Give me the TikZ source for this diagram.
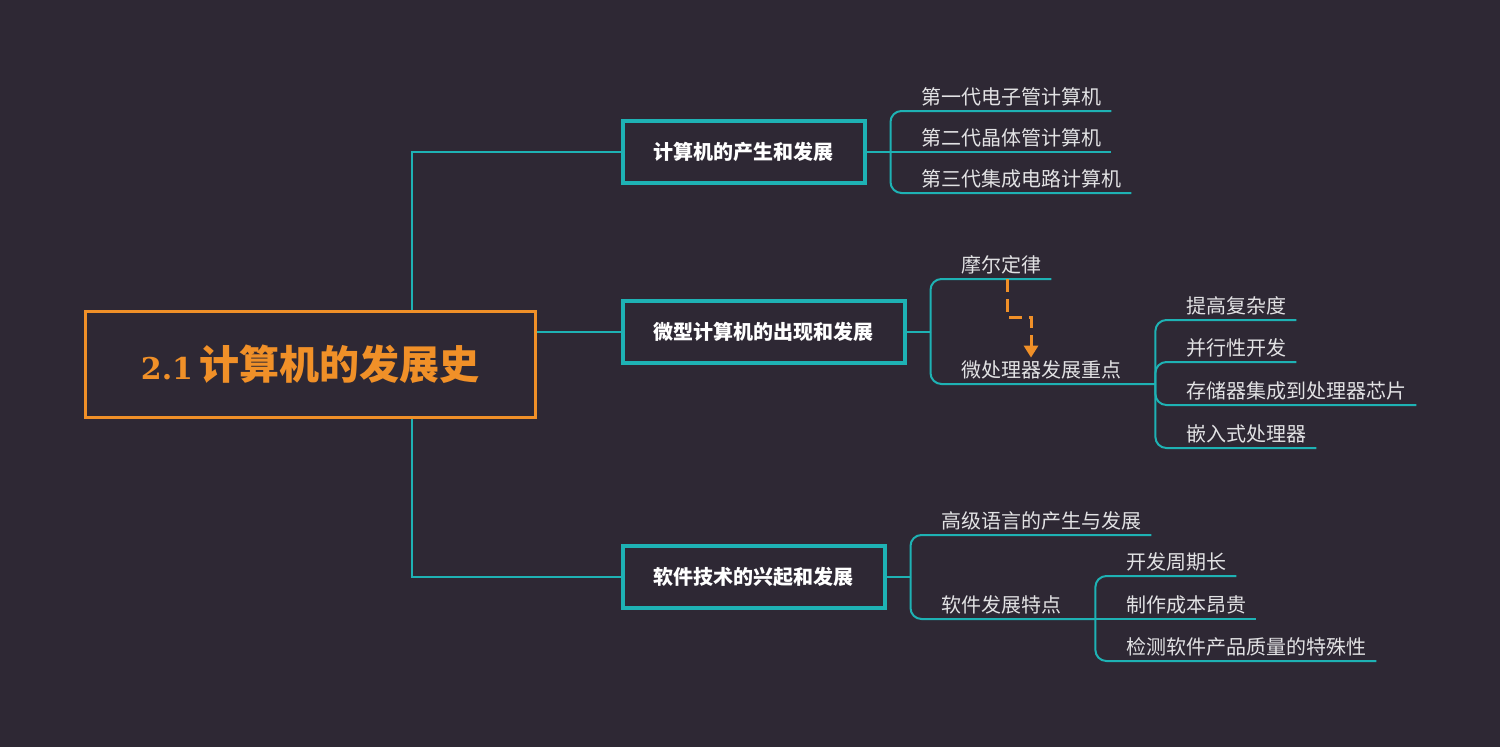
\documentclass[tikz,border=0pt]{standalone}
\usepackage{fontspec}
\setmainfont{Noto Sans CJK SC}
\newfontfamily\digitfont{DejaVu Serif}
\usetikzlibrary{calc,arrows.meta}
\definecolor{bgDark}{RGB}{46,40,52}
\definecolor{mapTeal}{RGB}{30,178,180}
\definecolor{mapOrange}{RGB}{240,144,40}
\definecolor{leafGray}{RGB}{226,226,228}
\tikzset{
  rootbox/.style={draw=mapOrange,line width=3pt,fill=bgDark,minimum width=450pt,minimum height=106pt,
    text=mapOrange,font=\bfseries\fontsize{40}{46}\selectfont},
  topicbox/.style={draw=mapTeal,line width=3.5pt,fill=bgDark,anchor=west,inner xsep=31pt,minimum height=62pt,
    text=white,font=\bfseries\fontsize{20}{24}\selectfont},
  leaf/.style={anchor=south west,inner xsep=10pt,inner ysep=6.5pt,text height=17pt,text depth=0pt,
    text=leafGray,font=\fontsize{20}{24}\selectfont},
  link/.style={draw=mapTeal,line width=2pt},
  bracket/.style={link,rounded corners=11pt},
  hintarrow/.style={draw=mapOrange,line width=3pt,dash pattern=on 13pt off 7pt,-{Triangle[width=14pt,length=12pt]}}
}

\begin{document}
\begin{tikzpicture}[x=1pt,y=-1pt]
\fill[bgDark] (0,0) rectangle (1500,747);
\useasboundingbox (0,0) rectangle (1500,747);

\node[rootbox] (root) at (310,364) {{\digitfont\bfseries\fontsize{30}{34}\selectfont 2.1}\hspace{6pt}计算机的发展史};

\node[topicbox] (t1) at (621,152) {计算机的产生和发展};
\node[topicbox] (t2) at (621,332) {微型计算机的出现和发展};
\node[topicbox] (t3) at (621,577) {软件技术的兴起和发展};

\draw[link] ([xshift=102pt]root.north) |- (t1.west);
\draw[link] (root.east |- t2.west) -- (t2.west);
\draw[link] ([xshift=102pt]root.south) |- (t3.west);

\coordinate (j1) at ([xshift=24pt]t1.east);
\coordinate (j2) at ([xshift=24pt]t2.east);
\coordinate (j3) at ([xshift=24pt]t3.east);

\node[leaf] (gen1) at (911,111) {第一代电子管计算机};
\node[leaf] (gen2) at (911,152) {第二代晶体管计算机};
\node[leaf] (gen3) at (911,193) {第三代集成电路计算机};
\draw[link] (t1.east) -- (j1);
\draw[bracket] (j1) |- (gen1.south east);
\draw[link] (j1) -- (gen2.south east);
\draw[bracket] (j1) |- (gen3.south east);

\node[leaf] (moore) at (951,279) {摩尔定律};
\node[leaf] (micro) at (951,384) {微处理器发展重点};
\coordinate (j4) at ([xshift=24pt]micro.south east);
\draw[link] (t2.east) -- (j2);
\draw[bracket] (j2) |- (moore.south east);
\draw[bracket] (j2) |- (j4);
\draw[hintarrow] ([xshift=56pt]moore.south west) -- ++(0,38) -| ([yshift=-4pt,xshift=80pt]micro.north west);

\node[leaf] (mp1) at (1176,320) {提高复杂度};
\node[leaf] (mp2) at (1176,362) {并行性开发};
\node[leaf] (mp3) at (1176,405) {存储器集成到处理器芯片};
\node[leaf] (mp4) at (1176,448) {嵌入式处理器};
\foreach \n in {mp1,mp2,mp3,mp4}
  \draw[bracket] (j4) |- (\n.south east);

\node[leaf] (lang) at (931,535) {高级语言的产生与发展};
\node[leaf] (soft) at (931,619) {软件发展特点};
\coordinate (j5) at ([xshift=24pt]soft.south east);
\draw[link] (t3.east) -- (j3);
\draw[bracket] (j3) |- (lang.south east);
\draw[bracket] (j3) |- (j5);

\node[leaf] (sw1) at (1116,576) {开发周期长};
\node[leaf] (sw2) at (1116,619) {制作成本昂贵};
\node[leaf] (sw3) at (1116,661) {检测软件产品质量的特殊性};
\draw[bracket] (j5) |- (sw1.south east);
\draw[link] (j5) -- (sw2.south east);
\draw[bracket] (j5) |- (sw3.south east);
\end{tikzpicture}
\end{document}
